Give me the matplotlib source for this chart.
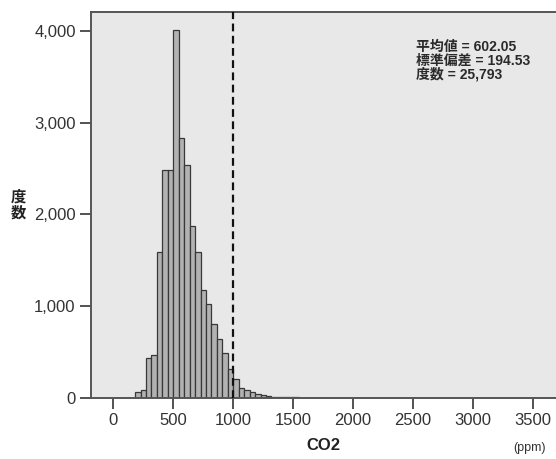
import matplotlib
matplotlib.use("Agg")
import matplotlib.pyplot as plt
import numpy as np
from matplotlib.ticker import FuncFormatter

# ---- data ----
bin_width = 500 / 11          # ppm per bin
first_bin_start = 500 - 7 * bin_width
counts = [65, 87, 434, 470, 1593, 2485, 2485,
          4015, 2830, 2538, 1880, 1589, 1173, 1027, 810, 645, 489, 317,
          205, 109, 84, 66, 44, 33, 22, 15, 12, 10, 8,
          6, 5, 4, 3, 2, 2, 1]
x_ticks = [0, 500, 1000, 1500, 2000, 2500, 3000, 3500]
y_ticks = [0, 1000, 2000, 3000, 4000]
ref_line = 1000
stats_lines = ["平均値 = 602.05", "標準偏差 = 194.53", "度数 = 25,793"]
x_label = "CO2"
unit_label = "(ppm)"
y_label = "度\n数"

W, H = 556, 459
fig = plt.figure(figsize=(W / 100, H / 100), dpi=100)
fig.patch.set_facecolor("white")
ax = fig.add_axes([91 / W, (459 - 398) / H, (W - 91) / W, (398 - 12) / H])
ax.set_facecolor("#e8e8e8")

lefts = first_bin_start + bin_width * np.arange(len(counts))
ax.bar(lefts, counts, width=bin_width, align="edge",
       facecolor="#b2b2b2", edgecolor="#383838", linewidth=0.9, zorder=2)

ax.axvline(ref_line, color="#111111", linestyle=(0, (3.5, 2)), linewidth=1.6, zorder=3)

ax.set_xlim(-186, 3691)
ax.set_ylim(0, 4207)
ax.set_xticks(x_ticks)
ax.set_xticklabels([str(v) for v in x_ticks])
ax.set_yticks(y_ticks)
ax.yaxis.set_major_formatter(FuncFormatter(lambda v, p: f"{int(v):,}"))

tick_font = dict(family=["Liberation Sans", "DejaVu Sans"], size=12, color="#333333")
for lab in ax.get_xticklabels() + ax.get_yticklabels():
    lab.set_fontfamily(tick_font["family"])
    lab.set_fontsize(tick_font["size"])
    lab.set_color(tick_font["color"])

ax.tick_params(axis="both", direction="out", length=8, width=1.3, color="#444444", pad=3)
for side in ["left", "bottom", "top"]:
    ax.spines[side].set_color("#555555")
    ax.spines[side].set_linewidth(1.4)
ax.spines["right"].set_visible(False)

ax.set_xlabel(x_label, fontfamily=["Liberation Sans", "DejaVu Sans"], fontsize=12,
              fontweight="bold", color="#222222", labelpad=7)
fig.text(530 / W, 1 - 448 / H, unit_label, ha="center", va="center",
         fontfamily=["Liberation Sans", "DejaVu Sans"], fontsize=9, color="#333333")

fig.text(18 / W, 1 - 205 / H, y_label, ha="center", va="center",
         fontfamily=["Noto Sans CJK JP", "DejaVu Sans"], fontsize=11,
         fontweight="bold", color="#222222", linespacing=1.0)

for i, line in enumerate(stats_lines):
    fig.text(416 / W, 1 - (47 + 13.5 * i) / H, line, ha="left", va="center",
             fontfamily=["Liberation Sans", "Noto Sans CJK JP"], fontsize=10,
             fontweight="bold", color="#2a2a2a")

fig.savefig("out.png", dpi=100)
